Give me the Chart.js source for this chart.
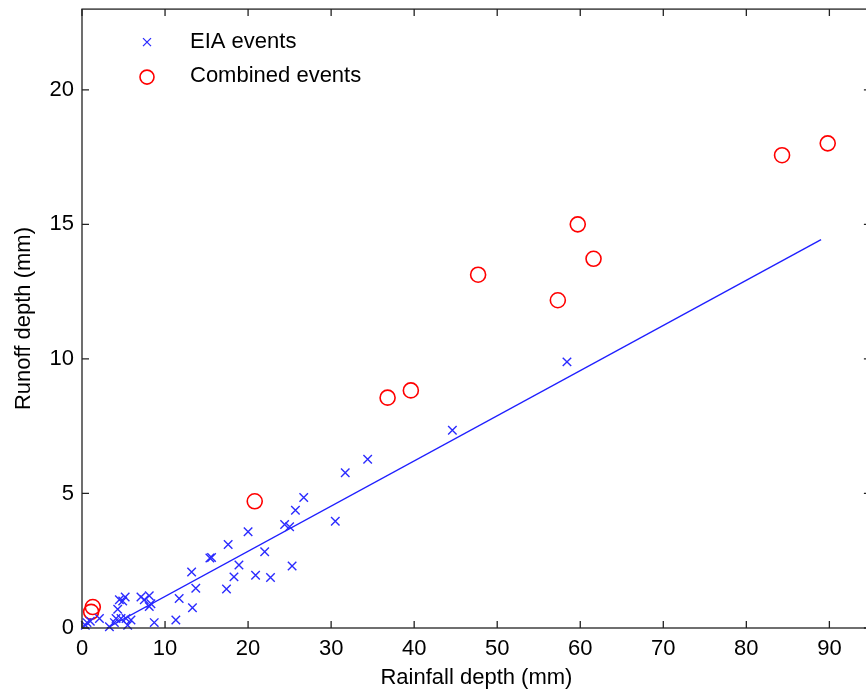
<!DOCTYPE html>
<html><head><meta charset="utf-8">
<script src="https://cdn.jsdelivr.net/npm/chart.js@4"></script>
<style>
html,body{margin:0;padding:0;overflow:hidden;background:#fff;width:866px;height:700px}
#wrap{position:absolute;left:0;top:0;width:880px;height:700px}
</style>
</head><body>
<div id="wrap"><canvas id="c" width="880" height="700"></canvas></div>
<script>
// EIA events (blue x)
const eiaRainfall = [0.4, 0.6, 1.0, 2.1, 3.3, 3.9, 4.1, 4.3, 4.5, 4.9, 5.2, 4.7, 5.3, 5.9, 5.5, 7.1, 7.5, 8.1, 8.3, 8.1, 8.7, 11.3, 11.7, 13.3, 13.7, 13.2, 15.4, 15.6, 17.4, 17.6, 18.3, 18.9, 20.0, 20.9, 22.0, 22.7, 24.4, 25.0, 25.3, 25.7, 26.7, 30.5, 31.7, 34.4, 44.6, 58.4];
const eiaRunoff   = [0.1, 0.2, 0.25, 0.35, 0.05, 0.2, 0.35, 0.7, 1.05, 1.0, 1.15, 0.35, 0.35, 0.3, 0.1, 1.15, 1.05, 1.2, 0.9, 0.8, 0.2, 0.3, 1.1, 0.75, 1.48, 2.08, 2.6, 2.62, 1.45, 3.1, 1.9, 2.34, 3.58, 1.96, 2.83, 1.88, 3.85, 3.76, 2.3, 4.38, 4.85, 3.97, 5.77, 6.27, 7.35, 9.89];
// Combined events (red circles)
const combRainfall = [1.1, 1.3, 20.8, 36.8, 39.6, 47.7, 57.3, 59.7, 61.6, 84.3, 89.8];
const combRunoff   = [0.6, 0.78, 4.71, 8.56, 8.83, 13.13, 12.18, 15.0, 13.72, 17.57, 18.01];
// Fitted line (endpoints)
const fitRainfall = [3.0, 89.0];
const fitRunoff   = [0.0, 14.43];
// Axes
const xTicks = [0, 10, 20, 30, 40, 50, 60, 70, 80, 90];
const yTicks = [0, 5, 10, 15, 20];
const xTitle = 'Rainfall depth (mm)';
const yTitle = 'Runoff depth (mm)';
const seriesLabels = ['EIA events', 'Combined events'];

const FONT = "'Liberation Sans', Arial, sans-serif";
const toPts = (xs, ys) => xs.map((x, i) => ({x: x, y: ys[i]}));

const framePlugin = {
  id: 'frame',
  afterDatasetsDraw(chart) {
    const {ctx, chartArea: a, scales: {x, y}} = chart;
    ctx.save();
    ctx.strokeStyle = '#222';
    ctx.lineWidth = 1.3;
    ctx.strokeRect(a.left, a.top, a.right - a.left, a.bottom - a.top);
    const tl = 7;
    ctx.beginPath();
    xTicks.forEach(v => {
      const px = x.getPixelForValue(v);
      ctx.moveTo(px, a.bottom); ctx.lineTo(px, a.bottom - tl);
      ctx.moveTo(px, a.top); ctx.lineTo(px, a.top + tl);
    });
    yTicks.forEach(v => {
      const py = y.getPixelForValue(v);
      ctx.moveTo(a.left, py); ctx.lineTo(a.left + tl, py);
      ctx.moveTo(a.right, py); ctx.lineTo(a.right - tl, py);
    });
    ctx.stroke();
    ctx.restore();
  }
};

const legendPlugin = {
  id: 'innerLegend',
  afterDraw(chart) {
    const {ctx, chartArea: a} = chart;
    ctx.save();
    const mx = a.left + 65, tx = a.left + 108;
    const rows = [a.top + 33, a.top + 67];
    // EIA marker (x)
    ctx.strokeStyle = '#2b2bff';
    ctx.lineWidth = 1.3;
    const r = 4;
    ctx.beginPath();
    ctx.moveTo(mx - r, rows[0] - r); ctx.lineTo(mx + r, rows[0] + r);
    ctx.moveTo(mx - r, rows[0] + r); ctx.lineTo(mx + r, rows[0] - r);
    ctx.stroke();
    // Combined marker (circle)
    ctx.strokeStyle = '#ff0000';
    ctx.lineWidth = 1.6;
    ctx.beginPath();
    ctx.arc(mx, rows[1] + 1, 7, 0, Math.PI * 2);
    ctx.stroke();
    ctx.fillStyle = '#000';
    ctx.font = '22px ' + FONT;
    ctx.textBaseline = 'middle';
    ctx.textAlign = 'left';
    ctx.fillText(seriesLabels[0], tx, rows[0]);
    ctx.fillText(seriesLabels[1], tx, rows[1]);
    ctx.restore();
  }
};

new Chart(document.getElementById('c'), {
  type: 'scatter',
  data: {
    datasets: [
      {
        label: seriesLabels[0],
        data: toPts(eiaRainfall, eiaRunoff),
        pointStyle: 'crossRot',
        pointRadius: 6,
        borderColor: '#2b2bff',
        backgroundColor: '#2b2bff',
        pointBorderWidth: 1.4,
        clip: false
      },
      {
        label: seriesLabels[1],
        data: toPts(combRainfall, combRunoff),
        pointStyle: 'circle',
        pointRadius: 7.5,
        borderColor: '#ff0000',
        backgroundColor: 'rgba(0,0,0,0)',
        pointBorderWidth: 1.6,
        clip: false
      },
      {
        label: 'fit',
        data: toPts(fitRainfall, fitRunoff),
        showLine: true,
        pointRadius: 0,
        borderColor: '#1f1fff',
        borderWidth: 1.4,
        fill: false
      }
    ]
  },
  options: {
    responsive: false,
    animation: false,
    devicePixelRatio: 1,
    layout: {padding: {left: 0, right: 8, top: 9, bottom: 0}},
    plugins: {legend: {display: false}, tooltip: {enabled: false}},
    scales: {
      x: {
        type: 'linear', min: 0, max: 95,
        afterBuildTicks: s => { s.ticks = xTicks.map(v => ({value: v})); },
        afterFit: s => { s.height = 72; s.paddingLeft = 0; s.paddingRight = 0; },
        grid: {display: false, drawTicks: false},
        border: {display: false},
        ticks: {color: '#000', font: {family: FONT, size: 22}, padding: 8, maxRotation: 0, autoSkip: false},
        title: {display: true, text: xTitle, color: '#000', font: {family: FONT, size: 22}, padding: {top: 0, bottom: 9}}
      },
      y: {
        type: 'linear', min: 0, max: 23,
        afterBuildTicks: s => { s.ticks = yTicks.map(v => ({value: v})); },
        afterFit: s => { s.width = 82; s.paddingTop = 0; s.paddingBottom = 0; },
        grid: {display: false, drawTicks: false},
        border: {display: false},
        ticks: {color: '#000', font: {family: FONT, size: 22}, padding: 8, autoSkip: false},
        title: {display: true, text: yTitle, color: '#000', font: {family: FONT, size: 22}, padding: {top: 11, bottom: 0}}
      }
    }
  },
  plugins: [framePlugin, legendPlugin]
});
</script>
</body></html>
